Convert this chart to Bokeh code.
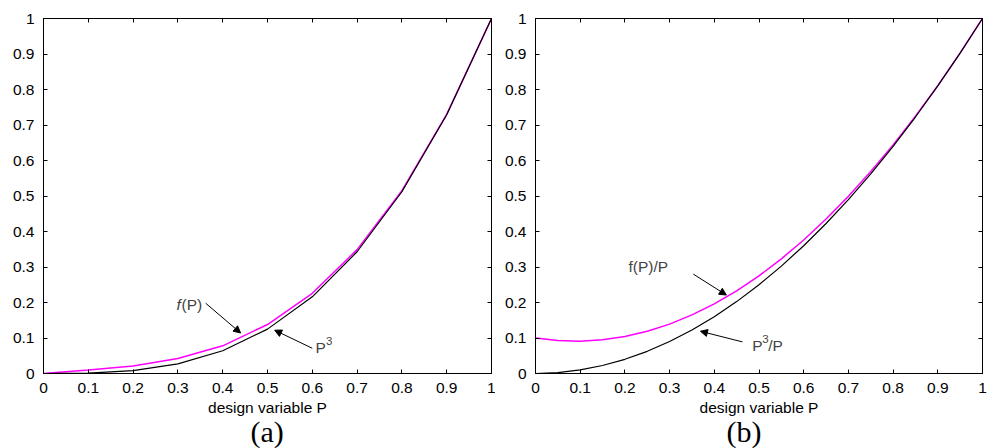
from bokeh.plotting import figure
from bokeh.models import Range1d, LinearAxis, FixedTicker, Label, Arrow, NormalHead, Title
from bokeh.layouts import row
from bokeh.embed import file_html
from bokeh.resources import INLINE

# ---------------- data ----------------
ticks = [0, 0.1, 0.2, 0.3, 0.4, 0.5, 0.6, 0.7, 0.8, 0.9, 1]
tick_labels = {0: "0", 0.1: "0.1", 0.2: "0.2", 0.3: "0.3", 0.4: "0.4", 0.5: "0.5",
               0.6: "0.6", 0.7: "0.7", 0.8: "0.8", 0.9: "0.9", 1: "1"}

# panel (a): sampled at 0.1 steps
p_a = [0, 0.1, 0.2, 0.3, 0.4, 0.5, 0.6, 0.7, 0.8, 0.9, 1.0]
f_a = [0, 0.010, 0.021, 0.042, 0.078, 0.138, 0.226, 0.349, 0.515, 0.730, 1.0]
cube_a = [0, 0.001, 0.008, 0.027, 0.064, 0.125, 0.216, 0.343, 0.512, 0.729, 1.0]

# panel (b): smooth curves
p_b = [0, 0.05, 0.1, 0.15, 0.2, 0.25, 0.3, 0.35, 0.4, 0.45, 0.5,
       0.55, 0.6, 0.65, 0.7, 0.75, 0.8, 0.85, 0.9, 0.95, 1.0]
fp_b = [0.100, 0.093, 0.091, 0.095, 0.104, 0.119, 0.139, 0.165, 0.196, 0.233, 0.275,
        0.323, 0.376, 0.435, 0.499, 0.569, 0.644, 0.725, 0.811, 0.903, 1.0]
sq_b = [0, 0.0025, 0.010, 0.0225, 0.040, 0.0625, 0.090, 0.1225, 0.160, 0.2025, 0.250,
        0.3025, 0.360, 0.4225, 0.490, 0.5625, 0.640, 0.7225, 0.810, 0.9025, 1.0]

x_title = "design variable P"
panel_tags = ["(a)", "(b)"]
SANS = "Liberation Sans"
SERIF = "Liberation Serif"
FS = "15.5px"


def make_panel(width, border_left, border_right, tag, tag_offset):
    p = figure(width=width, height=448, output_backend="svg", toolbar_location=None,
               x_range=Range1d(0, 1), y_range=Range1d(0, 1),
               min_border_left=border_left, min_border_right=border_right,
               min_border_top=18, min_border_bottom=75,
               x_axis_label=x_title)
    p.grid.visible = False
    p.outline_line_color = "black"
    p.outline_line_width = 1
    p.background_fill_color = "white"
    p.border_fill_color = "white"
    for ax in (p.xaxis[0], p.yaxis[0]):
        ax.ticker = FixedTicker(ticks=ticks)
        ax.major_label_overrides = tick_labels
        ax.major_tick_in = 4
        ax.major_tick_out = 0
        ax.minor_tick_line_color = None
        ax.axis_line_color = "black"
        ax.major_tick_line_color = "black"
        ax.major_label_text_font = SANS
        ax.major_label_text_font_size = FS
        ax.major_label_text_color = "black"
        ax.axis_label_text_font = SANS
        ax.axis_label_text_font_size = FS
        ax.axis_label_text_font_style = "normal"
        ax.axis_label_text_color = "black"
    p.xaxis[0].major_label_standoff = 9
    p.xaxis[0].axis_label_standoff = 3
    p.yaxis[0].major_label_standoff = 9
    # mirrored inward ticks on top and right (no labels)
    for loc in ("above", "right"):
        ax = LinearAxis(ticker=FixedTicker(ticks=ticks), major_tick_in=4, major_tick_out=0,
                        minor_tick_line_color=None, major_label_text_color=None,
                        major_label_text_font_size="1px",
                        major_label_standoff=0, axis_line_color="black")
        p.add_layout(ax, loc)
    p.add_layout(Title(text=tag, text_font=SERIF, text_font_size="30px", align="left",
                       text_font_style="normal", text_color="black",
                       standoff=-12, offset=tag_offset), "below")
    return p


arrow_head = dict(size=7, fill_color="black", line_color="black", line_width=1)

# ---------------- panel (a) ----------------
pa = make_panel(495, 43, 4, panel_tags[0], 207)
pa.line(p_a, f_a, line_color="#ff00ff", line_width=1.5)
pa.line(p_a, cube_a, line_color="black", line_width=1.2)

pa.add_layout(Label(x=0.297, y=0.193, text="f", text_font=SANS, text_font_size=FS,
                    text_font_style="italic", text_baseline="middle"))
pa.add_layout(Label(x=0.297, y=0.193, x_offset=5, text="(P)", text_font=SANS,
                    text_font_size=FS, text_baseline="middle"))
pa.add_layout(Arrow(x_start=0.362, y_start=0.198, x_end=0.440, y_end=0.114,
                    line_width=1, end=NormalHead(**arrow_head)))
pa.add_layout(Label(x=0.607, y=0.074, text="P", text_font=SANS, text_font_size=FS,
                    text_baseline="middle"))
pa.add_layout(Label(x=0.607, y=0.074, x_offset=10.5, y_offset=6, text="3", text_font=SANS,
                    text_font_size="11.5px", text_baseline="middle"))
pa.add_layout(Arrow(x_start=0.600, y_start=0.071, x_end=0.516, y_end=0.122,
                    line_width=1, end=NormalHead(**arrow_head)))

# ---------------- panel (b) ----------------
pb = make_panel(496, 40, 9, panel_tags[1], 191)
pb.line(p_b, fp_b, line_color="#ff00ff", line_width=1.5)
pb.line(p_b, sq_b, line_color="black", line_width=1.2)

pb.add_layout(Label(x=0.208, y=0.302, text="f(P)/P", text_font=SANS, text_font_size=FS,
                    text_baseline="middle"))
pb.add_layout(Arrow(x_start=0.353, y_start=0.280, x_end=0.427, y_end=0.221,
                    line_width=1, end=NormalHead(**arrow_head)))
pb.add_layout(Label(x=0.485, y=0.080, text="P", text_font=SANS, text_font_size=FS,
                    text_baseline="middle"))
pb.add_layout(Label(x=0.485, y=0.080, x_offset=10, y_offset=6, text="3", text_font=SANS,
                    text_font_size="11.5px", text_baseline="middle"))
pb.add_layout(Label(x=0.485, y=0.080, x_offset=16, text="/P", text_font=SANS,
                    text_font_size=FS, text_baseline="middle"))
pb.add_layout(Arrow(x_start=0.463, y_start=0.089, x_end=0.369, y_end=0.119,
                    line_width=1, end=NormalHead(**arrow_head)))

layout = row(pa, pb)
open("out.html", "w").write(file_html(layout, INLINE))
